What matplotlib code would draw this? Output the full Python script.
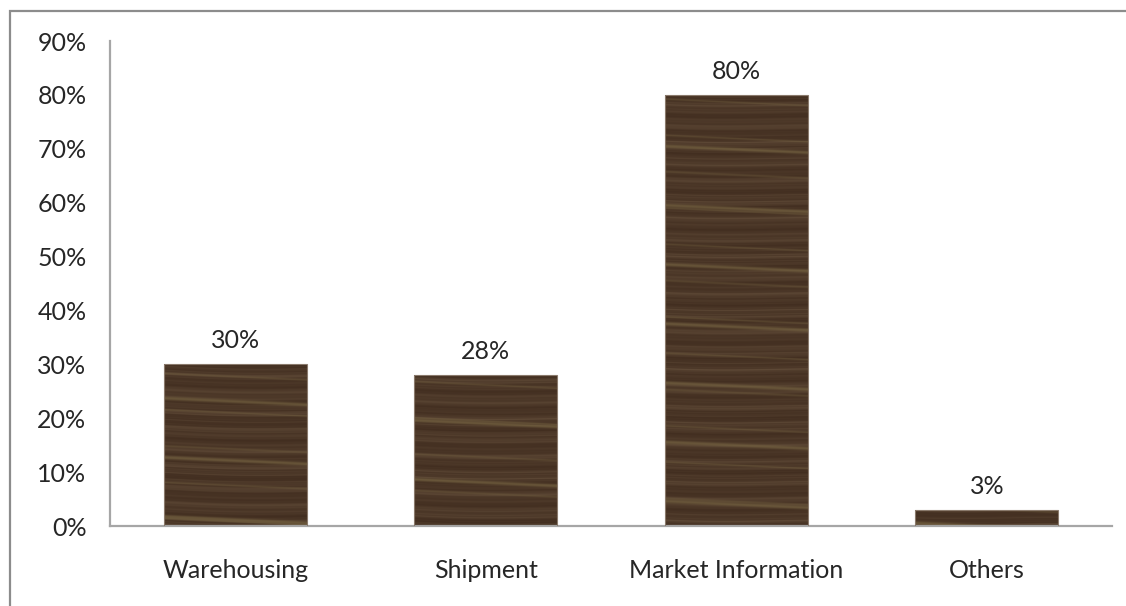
import matplotlib.pyplot as plt
import numpy as np
from matplotlib.patches import Rectangle

categories = ['Warehousing', 'Shipment', 'Market Information', 'Others']
shares = [0.30, 0.28, 0.80, 0.03]
yticks = [0.0, 0.1, 0.2, 0.3, 0.4, 0.5, 0.6, 0.7, 0.8, 0.9]

plt.rcParams['font.family'] = ['Lato', 'DejaVu Sans']


def wood_texture(h, w, phase):
    # fine horizontal grain with a few pale, slightly slanted streaks
    yy, xx = np.mgrid[0:h, 0:w] / np.array([h, w])[:, None, None]
    g = yy + 0.006 * xx + 0.004 * np.sin(3.0 * xx + phase)
    grain = (0.35 * np.sin(2 * np.pi * (g * 23 + phase)) +
             0.30 * np.sin(2 * np.pi * (g * 57 + 1.7 * phase)) +
             0.20 * np.sin(2 * np.pi * (g * 131 + 0.4 * phase)) +
             0.15 * np.sin(2 * np.pi * (g * 211 + 2.3 * phase)))
    g2 = yy + 0.015 * xx
    streak = (np.clip(np.sin(2 * np.pi * (g2 * 7.3 + phase)), 0, 1) ** 60 +
              0.6 * np.clip(np.sin(2 * np.pi * (g2 * 11.9 + 0.6 * phase)), 0, 1) ** 80)
    dark = np.array([66, 46, 32]) / 255
    light = np.array([96, 75, 56]) / 255
    band = np.array([118, 100, 66]) / 255
    t = (grain[..., None] + 1) / 2
    img = dark + (light - dark) * t ** 1.8
    img = img + (band - img) * np.clip(streak, 0, 1)[..., None] * 0.7
    return np.clip(img, 0, 1)


fig = plt.figure(figsize=(11.26, 6.06), dpi=100)
ax = fig.add_axes([0.0977, 0.132, 0.8899, 0.8003])

x = np.arange(len(categories))
bars = ax.bar(x, shares, width=0.57, color='none', edgecolor='#8a7a6c', linewidth=0.8, zorder=3)

for i, b in enumerate(bars):
    x0, w, h = b.get_x(), b.get_width(), b.get_height()
    tex = wood_texture(440, 150, 0.37 * i + 0.1)
    im = ax.imshow(tex, extent=(x0, x0 + w, 0, 0.8), origin='lower',
                   aspect='auto', interpolation='bilinear', zorder=2)
    im.set_clip_path(b)
    ax.text(b.get_x() + w / 2, h + 0.022, f'{h:.0%}', ha='center', va='bottom',
            fontsize=18, color='#262626')

ax.set_xlim(-0.5, len(categories) - 0.5)
ax.set_ylim(0, 0.9)
ax.set_yticks(yticks)
ax.set_yticklabels([f'{v:.0%}' for v in yticks])
ax.set_xticks(x)
ax.set_xticklabels(categories)
ax.tick_params(axis='both', length=0, labelsize=18, labelcolor='#262626')
ax.tick_params(axis='y', pad=17)
ax.tick_params(axis='x', pad=24)

for side in ['top', 'right']:
    ax.spines[side].set_visible(False)
for side in ['left', 'bottom']:
    ax.spines[side].set_color('#a6a6a6')
    ax.spines[side].set_linewidth(1.6)

# outer chart-area frame
fig.patches.append(Rectangle((10 / 1126, -0.05), 1.2, (606 - 11) / 606 + 0.05,
                             transform=fig.transFigure, fill=False,
                             edgecolor='#8c8c8c', linewidth=1.6))

fig.savefig('out.png', dpi=100)
